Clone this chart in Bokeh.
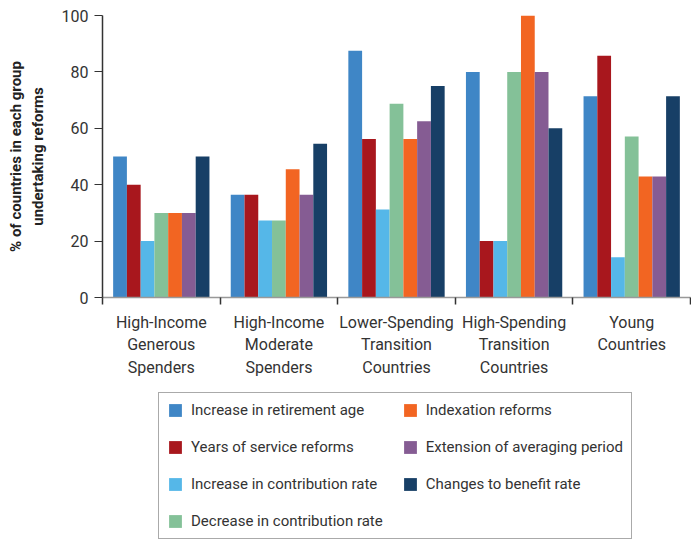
from bokeh.plotting import figure
from bokeh.layouts import column
from bokeh.models import Range1d, FixedTicker, Legend, LegendItem, ColumnDataSource
from bokeh.transform import dodge
from bokeh.embed import file_html
from bokeh.resources import INLINE

groups = ["High-Income\nGenerous\nSpenders", "High-Income\nModerate\nSpenders",
          "Lower-Spending\nTransition\nCountries", "High-Spending\nTransition\nCountries",
          "Young\nCountries"]
series = ["Increase in retirement age", "Years of service reforms",
          "Increase in contribution rate", "Decrease in contribution rate",
          "Indexation reforms", "Extension of averaging period", "Changes to benefit rate"]
colors = ["#3F86C6", "#A8171D", "#55B7E8", "#84C198", "#F26522", "#855C93", "#173F66"]

retirement_age = [50, 36.4, 87.5, 80, 71.4]
years_of_service = [40, 36.4, 56.25, 20, 85.7]
increase_contrib = [20, 27.3, 31.25, 20, 14.3]
decrease_contrib = [30, 27.3, 68.75, 80, 57.1]
indexation = [30, 45.5, 56.25, 100, 42.9]
averaging = [30, 36.4, 62.5, 80, 42.9]
benefit_rate = [50, 54.5, 75, 60, 71.4]
values = [retirement_age, years_of_service, increase_contrib, decrease_contrib,
          indexation, averaging, benefit_rate]

FONT = "Roboto"
TXT = "#333333"

centers = [i + 0.5 for i in range(len(groups))]
data = {"x": centers}
for j, v in enumerate(values):
    data[f"s{j}"] = v
src = ColumnDataSource(data)

p = figure(width=691, height=389, x_range=Range1d(0, 5), y_range=Range1d(0, 100),
           output_backend="svg", toolbar_location=None,
           min_border_left=102, min_border_top=15, min_border_right=1, min_border_bottom=92)

w = 0.117
for j in range(len(series)):
    p.vbar(x=dodge("x", (j - 3) * w, range=p.x_range), top=f"s{j}", width=w,
           source=src, fill_color=colors[j], line_color=None)

p.xgrid.grid_line_color = None
p.ygrid.grid_line_color = None
p.outline_line_color = None

# x axis
p.xaxis.ticker = FixedTicker(ticks=centers, minor_ticks=[0, 1, 2, 3, 4, 5])
p.xaxis.major_label_overrides = {c: g for c, g in zip(centers, groups)}
p.xaxis.major_tick_out = 0
p.xaxis.major_tick_in = 0
p.xaxis.minor_tick_out = 7
p.xaxis.minor_tick_in = 0
p.xaxis.minor_tick_line_color = "#333333"
p.xaxis.minor_tick_line_width = 1.5
p.xaxis.axis_line_color = "#999999"
p.xaxis.axis_line_width = 1.5
p.xaxis.major_label_text_font = FONT
p.xaxis.major_label_text_font_size = "16px"
p.xaxis.major_label_text_color = TXT
p.xaxis.major_label_standoff = 8

# y axis
p.yaxis.ticker = FixedTicker(ticks=[0, 20, 40, 60, 80, 100])
p.yaxis.minor_tick_line_color = None
p.yaxis.major_tick_out = 8
p.yaxis.major_tick_in = 0
p.yaxis.axis_line_color = "#333333"
p.yaxis.axis_line_width = 1.5
p.yaxis.major_tick_line_color = "#333333"
p.yaxis.major_label_text_font = FONT
p.yaxis.major_label_text_font_size = "16px"
p.yaxis.major_label_text_color = TXT
p.yaxis.major_label_standoff = 6
p.yaxis.axis_label = "% of countries in each group\nundertaking reforms"
p.yaxis.axis_label_text_font = FONT
p.yaxis.axis_label_text_font_style = "bold"
p.yaxis.axis_label_text_font_size = "15px"
p.yaxis.axis_label_text_color = "#222222"
p.yaxis.axis_label_standoff = 12

# legend panel
lg = figure(width=691, height=150, x_range=Range1d(0, 5), y_range=Range1d(1000, 1001),
            output_backend="svg", toolbar_location=None, x_axis_type=None, y_axis_type=None,
            min_border=0)
lg.outline_line_color = None
items = []
for j in range(len(series)):
    r = lg.vbar(x=dodge("x", (j - 3) * w, range=lg.x_range), top=f"s{j}", width=w,
                source=src, fill_color=colors[j], line_color=None)
    items.append(LegendItem(label=series[j], renderers=[r]))

legend = Legend(items=items, nrows=4, orientation="vertical", location=(56, 0),
                label_text_font=FONT, label_text_font_size="15px", label_text_color=TXT,
                glyph_width=16, glyph_height=16, label_height=16, spacing=19,
                label_standoff=8, padding=8, margin=0,
                border_line_color="#555555", border_line_width=1,
                background_fill_color="white")
lg.add_layout(legend, "center")

layout = column(p, lg, spacing=0)
open("out.html", "w").write(file_html(layout, INLINE))
